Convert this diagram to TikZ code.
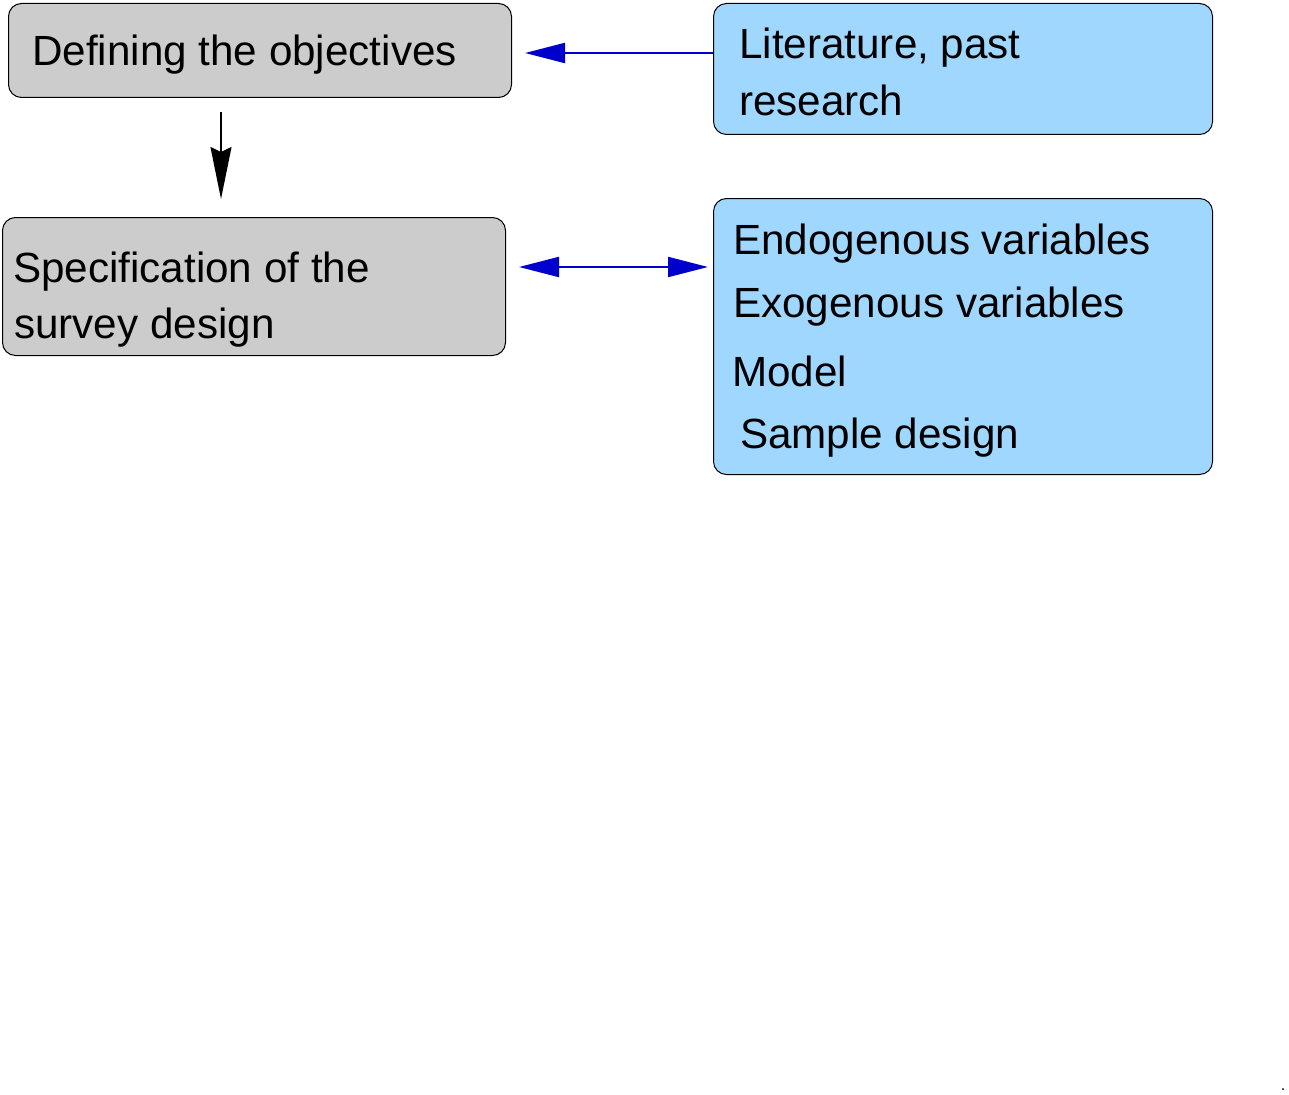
\documentclass[tikz,border=0pt]{standalone}
\usepackage{fontspec}
\setmainfont{Liberation Sans}
\usetikzlibrary{arrows.meta}
\definecolor{boxgray}{RGB}{204,204,204}
\definecolor{boxblue}{RGB}{160,215,255}
\definecolor{arrblue}{RGB}{0,0,205}
\begin{document}
\begin{tikzpicture}[x=1pt,y=-1pt,
  box/.style={draw=black,line width=1pt,rounded corners=13pt,anchor=north west,inner sep=0pt},
  graybox/.style={box,fill=boxgray},
  bluebox/.style={box,fill=boxblue},
  txt/.style={anchor=base west,inner sep=0pt,font=\fontsize{42.2}{50}\selectfont},
  blackarrow/.style={draw=black,line width=1.5pt,-{Stealth[length=52pt,width=21pt,inset=5pt]}},
  bluearrow/.style={draw=arrblue,line width=2pt,-{Triangle[length=40pt,width=20pt]}},
  bluedouble/.style={draw=arrblue,line width=2pt,{Triangle[length=40pt,width=20pt]}-{Triangle[length=40pt,width=20pt]}}]
\useasboundingbox (0,0) rectangle (1289,1094);
% boxes
\node[graybox,minimum width=503pt,minimum height=94pt] (A) at (8,3) {};
\node[graybox,minimum width=503pt,minimum height=138pt] (B) at (2,217) {};
\node[bluebox,minimum width=499pt,minimum height=131pt] (C) at (713,3) {};
\node[bluebox,minimum width=499pt,minimum height=276pt] (D) at (713,198) {};
% texts
\node[txt] (tA) at (32,66) {Defining the objectives};
\node[txt] (tB1) at (13,282) {Specification of the};
\node[txt] (tB2) at (14,338) {survey design};
\node[txt] (tC1) at (739,59) {Literature, past};
\node[txt] (tC2) at (739,116) {research};
\node[txt] (tD1) at (733,254) {Endogenous variables};
\node[txt] (tD2) at (733,317) {Exogenous variables};
\node[txt] (tD3) at (732,386) {Model};
\node[txt] (tD4) at (740,448) {Sample design};
% connectors
\draw[blackarrow,shorten <=14pt,shorten >=18pt] (A.south -| 221,0) -- (B.north -| 221,0);
\draw[bluearrow,shorten >=13pt] (C.west |- 0,53) -- (A.east |- 0,53);
\draw[bluedouble,shorten <=13pt,shorten >=5pt] (B.east |- 0,267) -- (D.west |- 0,267);
% stray dot
\node[inner sep=0pt,font=\fontsize{16}{18}\selectfont] (dot) at (1283,1090) {.};
\end{tikzpicture}
\end{document}
